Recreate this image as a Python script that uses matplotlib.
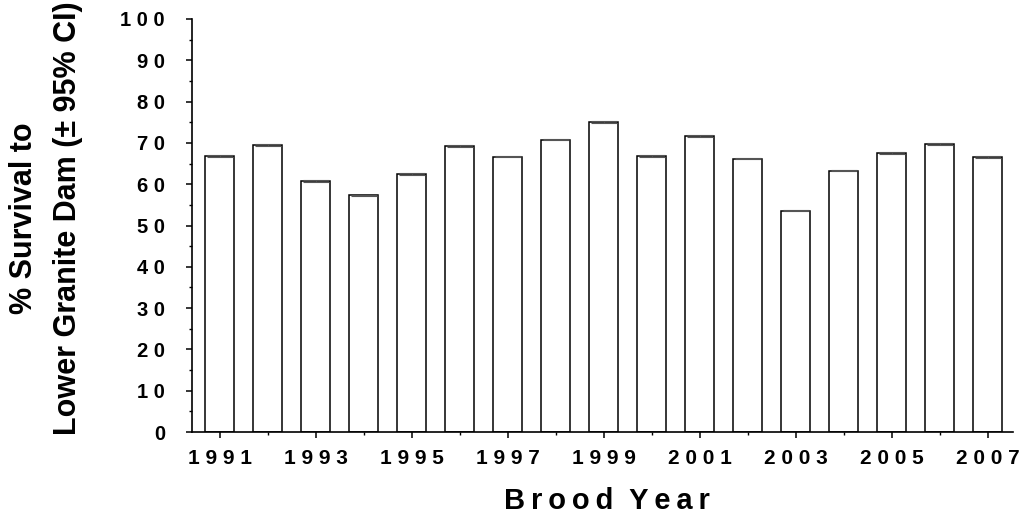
import matplotlib
matplotlib.use("Agg")
import matplotlib.pyplot as plt
from matplotlib.ticker import MultipleLocator

plt.rcParams['font.family'] = ['Liberation Sans', 'DejaVu Sans']
plt.rcParams['font.weight'] = 'bold'

# brood years and % survival to Lower Granite Dam
years = [1991, 1992, 1993, 1994, 1995, 1996, 1997, 1998, 1999,
         2000, 2001, 2002, 2003, 2004, 2005, 2006, 2007]
survival = [66.9, 69.5, 60.8, 57.3, 62.5, 69.3, 66.7, 70.8, 75.1,
            66.9, 71.6, 66.2, 53.6, 63.3, 67.6, 69.8, 66.6]
ci95 = [0.2] * len(years)

label_years = years[::2]


def spaced(s, sep=" "):
    return sep.join(str(s))


fig = plt.figure(figsize=(10.23, 5.23), dpi=100)
ax = fig.add_axes([192 / 1023, 91 / 523, (1012.7 - 192) / 1023, 413 / 523])

ax.bar(years, survival, width=0.6, color='white', edgecolor='black', linewidth=1.1, zorder=2)
ax.errorbar(years, survival, yerr=ci95, fmt='none', ecolor='#555555',
            elinewidth=0.6, capsize=9.5, capthick=0.8, zorder=3)

ax.set_xlim(1990.42, 2007.52)
ax.set_ylim(0, 100)

ax.spines['top'].set_visible(False)
ax.spines['right'].set_visible(False)
for sp in ['left', 'bottom']:
    ax.spines[sp].set_linewidth(1.2)

ax.set_xticks(label_years)
ax.set_xticklabels([spaced(y) for y in label_years], fontsize=15, fontweight='bold')
ax.xaxis.set_minor_locator(MultipleLocator(1))
ax.set_yticks(range(0, 101, 10))
ax.set_yticklabels([spaced(v) for v in range(0, 101, 10)], fontsize=14.5, fontweight='bold')
ax.yaxis.set_minor_locator(MultipleLocator(5))
ax.tick_params(axis='both', which='major', length=4.5, width=1.1, direction='out')
ax.tick_params(axis='both', which='minor', length=2.5, width=1.0, direction='out')
ax.tick_params(axis='x', which='major', pad=8)
ax.tick_params(axis='y', which='major', pad=15)

xlab = "  ".join(spaced(w, "\u2009") for w in "Brood Year".split())
ax.set_xlabel(xlab, fontsize=21, fontweight='bold')
ax.xaxis.set_label_coords(0.506, -0.133)
ax.xaxis.label.set_va('top')

fig.text(46 / 1023, 0.583, "% Survival to\nLower Granite Dam (± 95% CI)",
         rotation=90, ha='center', va='center', fontsize=22, fontweight='bold',
         linespacing=1.6, multialignment='center')

fig.savefig("out.png", dpi=100)
